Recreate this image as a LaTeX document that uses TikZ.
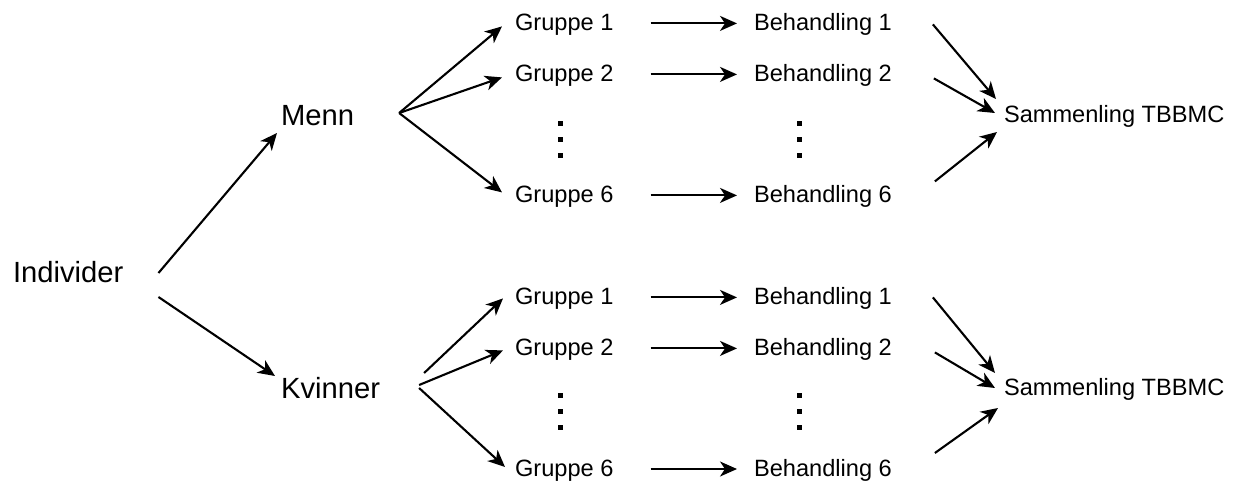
\documentclass[tikz,border=0pt]{standalone}
\usepackage{fontspec}
\setmainfont{Liberation Sans}
\usetikzlibrary{arrows.meta}

\begin{document}
\begin{tikzpicture}[x=1pt,y=-1pt,>={Stealth[length=17pt,width=15pt,inset=5pt]},line width=2.1pt,
  main node/.style={inner sep=0pt,anchor=base west,font=\fontsize{29.2}{34}\selectfont},
  sub node/.style={inner sep=0pt,anchor=base west,font=\fontsize{23.6}{28}\selectfont}]
  \useasboundingbox (0,0) rectangle (1233,480);

  \node[main node] (ind) at (12,282) {Individer};
  \node[main node] (menn) at (280,125) {Menn};
  \node[main node] (kvin) at (280,398) {Kvinner};
  % menn
  \node[sub node] (g1) at (514,30.4) {Gruppe 1};
  \node[sub node] (g2) at (514,81.4) {Gruppe 2};
  \node[sub node] (g6) at (514,202.4) {Gruppe 6};
  \node[sub node] (b1) at (753,30.4) {Behandling 1};
  \node[sub node] (b2) at (753,81.4) {Behandling 2};
  \node[sub node] (b6) at (753,202.4) {Behandling 6};
  \node[sub node] (s) at (1003,122) {Sammenling TBBMC};
  % kvinner
  \node[sub node] (kg1) at (514,304.4) {Gruppe 1};
  \node[sub node] (kg2) at (514,355.4) {Gruppe 2};
  \node[sub node] (kg6) at (514,476) {Gruppe 6};
  \node[sub node] (kb1) at (753,304.4) {Behandling 1};
  \node[sub node] (kb2) at (753,355.4) {Behandling 2};
  \node[sub node] (kb6) at (753,476) {Behandling 6};
  \node[sub node] (ks) at (1003,395) {Sammenling TBBMC};

\foreach \x in {560,799}
  \foreach \y in {123,139,155,395,411,427}
    \fill (\x-2.5,\y-2.5) rectangle ++(5,5);

\draw [->] ([shift={(34,-9)}]ind.base east) -- ([shift={(-3,8)}]menn.base west);
\draw [->] ([shift={(34,15)}]ind.base east) -- ([shift={(-5,-22)}]kvin.base west);
\draw [->] ([shift={(44,-12)}]menn.base east) -- ([shift={(-12,-4)}]g1.base west);
\draw [->] ([shift={(44,-12)}]menn.base east) -- ([shift={(-12,-4)}]g2.base west);
\draw [->] ([shift={(44,-12)}]menn.base east) -- ([shift={(-12,-10)}]g6.base west);
\draw [->] ([shift={(43,-25)}]kvin.base east) -- ([shift={(-11,-6)}]kg1.base west);
\draw [->] ([shift={(38,-13)}]kvin.base east) -- ([shift={(-11,-5)}]kg2.base west);
\draw [->] ([shift={(38,-10)}]kvin.base east) -- ([shift={(-9,-9)}]kg6.base west);
\draw [->] ([shift={(36,-7)}]g1.base east) -- ([shift={(-16,-7)}]b1.base west);
\draw [->] ([shift={(36,-7)}]g2.base east) -- ([shift={(-16,-7)}]b2.base west);
\draw [->] ([shift={(36,-7)}]g6.base east) -- ([shift={(-16,-7)}]b6.base west);
\draw [->] ([shift={(36,-7)}]kg1.base east) -- ([shift={(-16,-7)}]kb1.base west);
\draw [->] ([shift={(36,-7)}]kg2.base east) -- ([shift={(-16,-7)}]kb2.base west);
\draw [->] ([shift={(36,-7)}]kg6.base east) -- ([shift={(-16,-7)}]kb6.base west);
\draw [->] ([shift={(40,-6)}]b1.base east) -- ([shift={(-7,-23)}]s.base west);
\draw [->] ([shift={(41,-3)}]b2.base east) -- ([shift={(-8,-9)}]s.base west);
\draw [->] ([shift={(42,-21)}]b6.base east) -- ([shift={(-6,10)}]s.base west);
\draw [->] ([shift={(40,-7)}]kb1.base east) -- ([shift={(-8,-22)}]ks.base west);
\draw [->] ([shift={(42,-3)}]kb2.base east) -- ([shift={(-8,-7)}]ks.base west);
\draw [->] ([shift={(42,-23)}]kb6.base east) -- ([shift={(-5,13)}]ks.base west);
\end{tikzpicture}
\end{document}
